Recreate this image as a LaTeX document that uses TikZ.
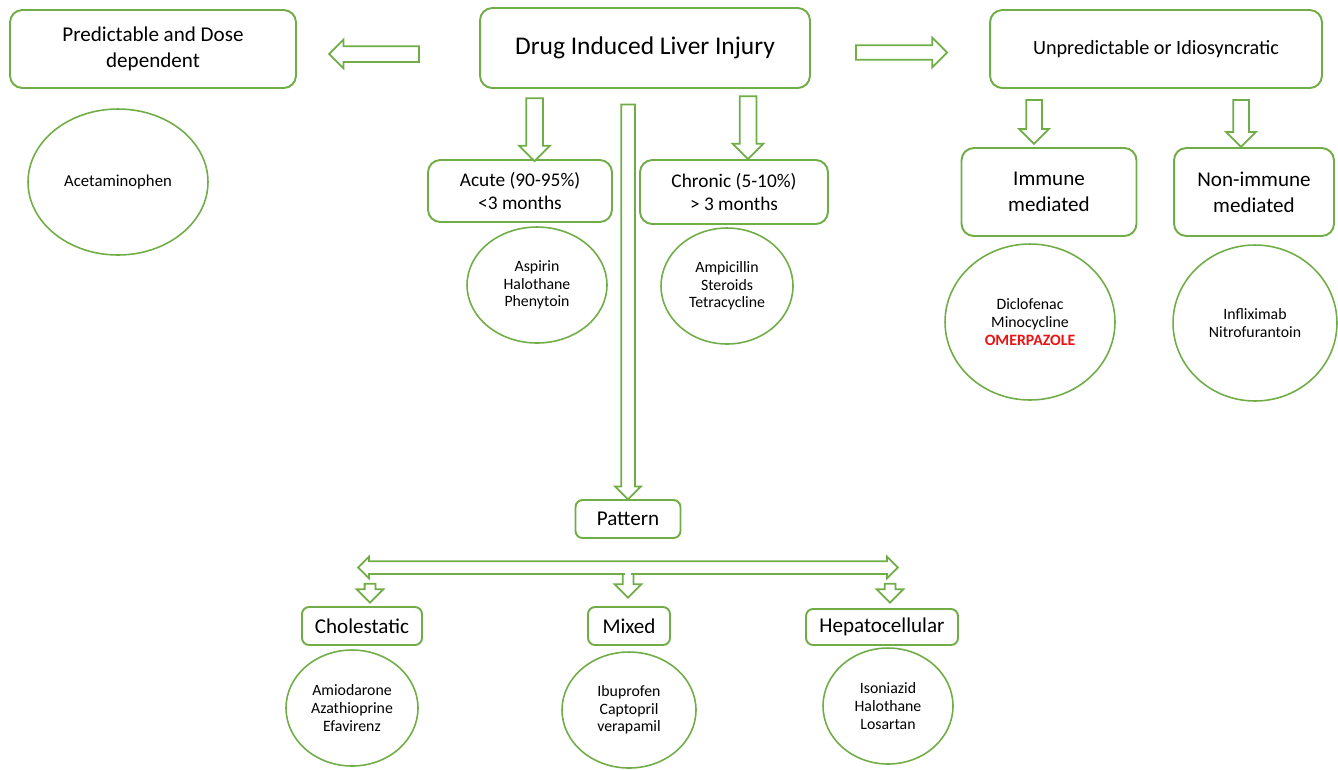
\documentclass[tikz,border=0pt]{standalone}
\usepackage{fontspec}
\setmainfont{Carlito}
\usetikzlibrary{shapes.geometric,shapes.arrows}
\definecolor{leafgreen}{RGB}{112,173,71}
\definecolor{alertred}{RGB}{235,20,20}

\begin{document}
\begin{tikzpicture}[x=0.02cm, y=-0.02cm]
    \tikzstyle{box} = [draw=leafgreen, line width=1.1pt, rounded corners=7pt, align=center, inner sep=0pt, font=\fontsize{12}{15}\selectfont]
    \tikzstyle{tag} = [draw=leafgreen, line width=1.1pt, rounded corners=4pt, align=center, inner sep=0pt, minimum height=0.76cm, font=\fontsize{12}{14}\selectfont]
    \tikzstyle{drug} = [draw=leafgreen, line width=0.9pt, ellipse, align=center, inner sep=0pt, font=\fontsize{9}{10}\selectfont]
    \tikzstyle{hollow} = [single arrow, draw=leafgreen, line width=1pt, fill=white, inner sep=0pt, single arrow tip angle=90]
    \useasboundingbox (0,0) rectangle (1338,769);

    \node[box, minimum width=5.72cm, minimum height=1.56cm] (pred) at (153,49) {Predictable and Dose\\dependent};
    \node[box, minimum width=6.6cm, minimum height=1.6cm, font=\fontsize{14.5}{17}\selectfont] (dili) at (645,48) {Drug Induced Liver Injury};
    \node[box, minimum width=6.64cm, minimum height=1.56cm, font=\fontsize{11.5}{14}\selectfont] (idio) at (1156,49) {Unpredictable or Idiosyncratic};

    \node[box, minimum width=3.68cm, minimum height=1.24cm, font=\fontsize{11}{13.5}\selectfont] (acute) at (520,191) {Acute (90-95\%)\\<3 months};
    \node[box, minimum width=3.76cm, minimum height=1.28cm, font=\fontsize{11}{13.5}\selectfont] (chronic) at (734,192) {Chronic (5-10\%)\\> 3 months};
    \node[box, minimum width=3.5cm, minimum height=1.76cm] (immune) at (1049,192) {Immune\\mediated};
    \node[box, minimum width=3.2cm, minimum height=1.76cm] (nonimmune) at (1254,192) {Non-immune\\mediated};

    \node[drug, minimum width=3.6cm, minimum height=2.92cm, font=\fontsize{9.5}{11}\selectfont] (acet) at (118,182) {Acetaminophen};
    \node[drug, minimum width=2.8cm, minimum height=2.32cm] (acutedrugs) at (537,285) {Aspirin\\Halothane\\Phenytoin};
    \node[drug, minimum width=2.64cm, minimum height=2.32cm] (chronicdrugs) at (727,286) {Ampicillin\\Steroids\\Tetracycline};
    \node[drug, minimum width=3.4cm, minimum height=3.12cm] (immunedrugs) at (1030,322) {Diclofenac\\Minocycline\\{\color{alertred}\bfseries OMERPAZOLE}};
    \node[drug, minimum width=3.28cm, minimum height=3.12cm] (nonimmunedrugs) at (1255,323) {Infliximab\\Nitrofurantoin};

    \node[tag, minimum width=2.1cm] (pattern) at (628,519) {Pattern};
    \node[tag, minimum width=2.4cm] (chol) at (362,626) {Cholestatic};
    \node[tag, minimum width=1.64cm] (mixed) at (629,626) {Mixed};
    \node[tag, minimum width=3.04cm, minimum height=0.72cm] (hepato) at (882,627) {Hepatocellular};

    \node[drug, minimum width=2.64cm, minimum height=2.32cm] (choldrugs) at (352,708) {Amiodarone\\Azathioprine\\Efavirenz};
    \node[drug, minimum width=2.68cm, minimum height=2.32cm] (mixeddrugs) at (629,710) {Ibuprofen\\Captopril\\verapamil};
    \node[drug, minimum width=2.6cm, minimum height=2.32cm] (hepatodrugs) at (888,706) {Isoniazid\\Halothane\\Losartan};

    \node[hollow, rotate=180, minimum height=1.8cm, inner ysep=0.14cm, single arrow head extend=0.13cm] (topredictable) at (378,54) {};
    \node[hollow, minimum height=1.82cm, inner ysep=0.126cm, single arrow head extend=0.154cm] (toidio) at (898,52.5) {};
    \node[hollow, rotate=-90, minimum height=1.26cm, inner ysep=0.15cm, single arrow head extend=0.14cm] (toacute) at (534.5,125.5) {};
    \node[hollow, rotate=-90, minimum height=1.26cm, inner ysep=0.15cm, single arrow head extend=0.14cm] (tochronic) at (748,123.5) {};
    \node[hollow, rotate=-90, minimum height=0.88cm, inner ysep=0.14cm, single arrow head extend=0.14cm] (toimmune) at (1034,118) {};
    \node[hollow, rotate=-90, minimum height=0.94cm, inner ysep=0.14cm, single arrow head extend=0.14cm] (tononimmune) at (1241,119.5) {};
    \node[hollow, rotate=-90, minimum height=7.9cm, inner ysep=0.12cm, single arrow head extend=0.12cm] (topattern) at (628,298.5) {};

    \node[hollow, rotate=-90, minimum height=0.5cm, inner ysep=0.09cm, single arrow head extend=0.16cm] (tomixed) at (628,582.5) {};
    \node[double arrow, draw=leafgreen, line width=1pt, fill=white, inner sep=0pt, inner ysep=0.11cm, double arrow head extend=0.09cm, double arrow tip angle=90, minimum height=10.8cm] (spread) at (628,567.5) {};
    \fill[white] (624.6,571) rectangle (631.4,575.5);
    \node[hollow, rotate=-90, minimum height=0.38cm, inner ysep=0.09cm, single arrow head extend=0.16cm] (tochol) at (370,590.5) {};
    \node[hollow, rotate=-90, minimum height=0.38cm, inner ysep=0.09cm, single arrow head extend=0.16cm] (tohepato) at (890,590.5) {};
\end{tikzpicture}
\end{document}
